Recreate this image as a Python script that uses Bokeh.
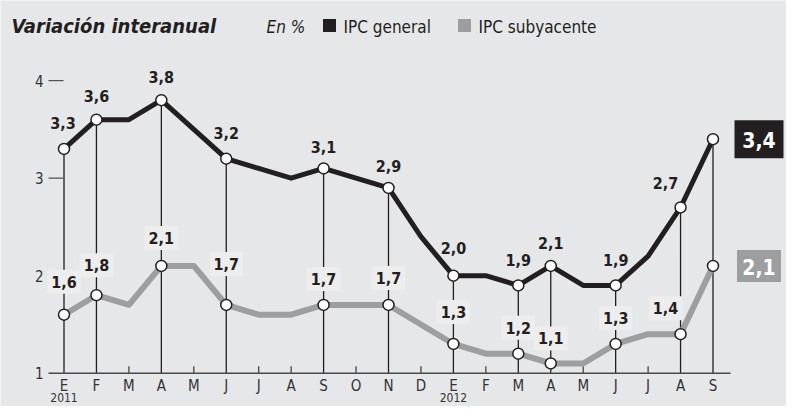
from bokeh.plotting import figure
from bokeh.models import Range1d
from bokeh.core.properties import value
from bokeh.embed import file_html
from bokeh.resources import INLINE

# ---------------- data ----------------
months = ["E", "F", "M", "A", "M", "J", "J", "A", "S", "O", "N", "D",
          "E", "F", "M", "A", "M", "J", "J", "A", "S"]
years = ["2011", "2012"]
year_pos = [0, 12]
general = [3.3, 3.6, 3.6, 3.8, 3.5, 3.2, 3.1, 3.0, 3.1, 3.0, 2.9, 2.4,
           2.0, 2.0, 1.9, 2.1, 1.9, 1.9, 2.2, 2.7, 3.4]
subyacente = [1.6, 1.8, 1.7, 2.1, 2.1, 1.7, 1.6, 1.6, 1.7, 1.7, 1.7, 1.5,
              1.3, 1.2, 1.2, 1.1, 1.1, 1.3, 1.4, 1.4, 2.1]
marked = [0, 1, 3, 5, 8, 10, 12, 14, 15, 17, 19, 20]
y_ticks = [1, 2, 3, 4]

# ---------------- layout / style ----------------
W, H = 786, 406
X0, DX = 63.5, 32.45      # pixel x of first month, px per month
Y1, DY = 372.7, 97.5      # pixel y (from top) of value 1, px per unit
BG = "#e6e7e9"
BLACK = "#231f20"
GREY = "#9d9ea0"
BOXC = "#ededee"
FONT = value("DejaVu Sans Condensed")

# label offsets (pixels)
gen_dy = [-26, -24, -23, -26, -21, -22, -28, -25, -23, -25, -24]
gen_dx = [-1, 0, 0, 0, 0, 0, 0, 0, 0, 0, -15]
sub_dy = [-33, -30, -28, -41, -26, -27, -32, -26, -25, -26, -26]
sub_dx = [0, 0, 0, 0, 0, 0, 0, 0, 0, 0, -15]
END_DX = 46


def px2x(px):
    return (px - X0) / DX


def py2y(py):
    return 1 + (Y1 - py) / DY


def fmt(v):
    return f"{v:.1f}".replace(".", ",")


p = figure(width=W, height=H, output_backend="svg", toolbar_location=None,
           x_range=Range1d(px2x(0), px2x(W)), y_range=Range1d(py2y(H), py2y(0)),
           min_border=0, x_axis_location=None, y_axis_location=None, title=None)
p.grid.visible = False
p.outline_line_color = None
p.background_fill_color = BG
p.border_fill_color = BG

idx = list(range(len(months)))
last = len(months) - 1

# drop lines from general markers to axis
p.segment(x0=marked, y0=[general[i] for i in marked], x1=marked, y1=[y_ticks[0]] * len(marked),
          line_color=BLACK, line_width=1.3)
# small ticks for other months
others = [i for i in idx if i not in marked]
p.segment(x0=others, y0=[y_ticks[0]] * len(others), x1=others,
          y1=[y_ticks[0] + 7 / DY] * len(others), line_color="#444444", line_width=1.3)
# x axis line
p.segment(x0=[px2x(48)], y0=[y_ticks[0]], x1=[px2x(730)], y1=[y_ticks[0]],
          line_color="#4a4a4a", line_width=1.6)
# y tick dashes
p.segment(x0=[px2x(48)] * 3, y0=y_ticks[1:], x1=[px2x(63)] * 3, y1=y_ticks[1:],
          line_color="#555555", line_width=1.2)
p.text(x=[px2x(43)] * 4, y=y_ticks, text=[str(t) for t in y_ticks],
       text_font=FONT, text_font_size="15px", text_color="#333333",
       text_align="right", text_baseline="middle")

# month labels and years
p.text(x=idx, y=[y_ticks[0]] * len(idx), text=months, y_offset=13,
       text_font=FONT, text_font_size="15px", text_color="#333333",
       text_align="center", text_baseline="middle")
p.text(x=year_pos, y=[y_ticks[0]] * 2, text=years, y_offset=20,
       text_font=FONT, text_font_size="12px", text_color="#333333",
       text_align="center", text_baseline="top")

# series lines
p.line(idx, subyacente, line_color=GREY, line_width=6, line_join="round")
p.line(idx, general, line_color=BLACK, line_width=5, line_join="round")

# value labels
lab = marked[:-1]
p.text(x=lab, y=[general[i] for i in lab], text=[fmt(general[i]) for i in lab],
       x_offset=gen_dx, y_offset=gen_dy,
       text_font=FONT, text_font_size="16px", text_font_style="bold", text_color=BLACK,
       text_align="center", text_baseline="middle")
p.text(x=lab, y=[subyacente[i] for i in lab], text=[fmt(subyacente[i]) for i in lab],
       x_offset=sub_dx, y_offset=sub_dy,
       text_font=FONT, text_font_size="16px", text_font_style="bold", text_color=BLACK,
       text_align="center", text_baseline="middle",
       background_fill_color=BOXC, padding=(4, 6))

# markers
for series in (general, subyacente):
    p.scatter(x=marked, y=[series[i] for i in marked], size=11, fill_color="white",
              line_color=BLACK, line_width=1.5)

# end value boxes
p.rect(x=[last + END_DX / DX], y=[general[last]], width=49, height=38,
       width_units="screen", height_units="screen", fill_color=BLACK, line_color=None)
p.rect(x=[last + END_DX / DX], y=[subyacente[last]], width=44, height=32,
       width_units="screen", height_units="screen", fill_color=GREY, line_color=None)
p.text(x=[last, last], y=[general[last], subyacente[last]],
       text=[fmt(general[last]), fmt(subyacente[last])], x_offset=END_DX, y_offset=1,
       text_font=FONT, text_font_size="21px", text_font_style="bold", text_color="white",
       text_align="center", text_baseline="middle")

# title and legend
p.text(x=[px2x(11)], y=[py2y(25)], text=["Variación interanual"],
       text_font=FONT, text_font_size="20px", text_font_style="bold italic", text_color=BLACK,
       text_align="left", text_baseline="middle")
p.text(x=[px2x(266)], y=[py2y(26)], text=["En %"],
       text_font=FONT, text_font_size="17px", text_font_style="italic", text_color=BLACK,
       text_align="left", text_baseline="middle")
p.scatter(x=[px2x(329)], y=[py2y(25)], marker="square", size=13, fill_color=BLACK, line_color=None)
p.text(x=[px2x(343)], y=[py2y(26)], text=["IPC general"],
       text_font=FONT, text_font_size="17px", text_color=BLACK,
       text_align="left", text_baseline="middle")
p.scatter(x=[px2x(464)], y=[py2y(25)], marker="square", size=13, fill_color=GREY, line_color=None)
p.text(x=[px2x(478)], y=[py2y(26)], text=["IPC subyacente"],
       text_font=FONT, text_font_size="17px", text_color=BLACK,
       text_align="left", text_baseline="middle")

open("out.html", "w").write(file_html(p, INLINE))
